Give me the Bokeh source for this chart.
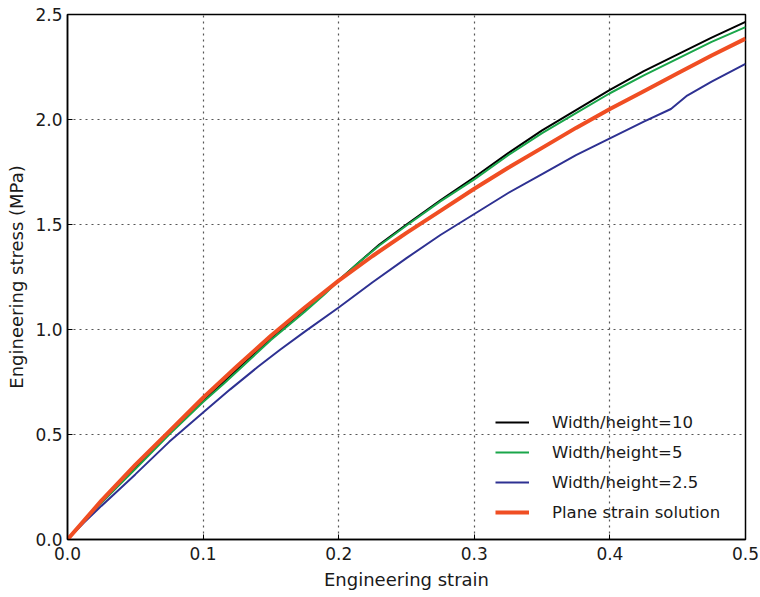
from bokeh.plotting import figure
from bokeh.models import Legend, LegendItem, FixedTicker, PrintfTickFormatter
from bokeh.embed import file_html
from bokeh.resources import INLINE

# ---- data ----
strain_w10 = [0.0, 0.012, 0.025, 0.05, 0.075, 0.1, 0.115, 0.125, 0.15, 0.175, 0.19, 0.2,
              0.215, 0.23, 0.25, 0.275, 0.3, 0.325, 0.35, 0.375, 0.4, 0.425, 0.45, 0.475, 0.5]
stress_w10 = [0.0, 0.085, 0.175, 0.34, 0.505, 0.66, 0.75, 0.81, 0.96, 1.095, 1.18, 1.235,
              1.32, 1.405, 1.50, 1.615, 1.725, 1.84, 1.948, 2.045, 2.141, 2.23, 2.31, 2.39, 2.465]

strain_w5 = [0.0, 0.012, 0.025, 0.05, 0.075, 0.1, 0.115, 0.125, 0.15, 0.175, 0.19, 0.2,
             0.215, 0.23, 0.25, 0.275, 0.3, 0.325, 0.35, 0.375, 0.4, 0.425, 0.45, 0.475, 0.5]
stress_w5 = [0.0, 0.085, 0.175, 0.335, 0.5, 0.655, 0.74, 0.8, 0.95, 1.085, 1.17, 1.233,
             1.32, 1.40, 1.495, 1.61, 1.715, 1.83, 1.935, 2.03, 2.125, 2.21, 2.29, 2.37, 2.44]

strain_w25 = [0.0, 0.012, 0.025, 0.05, 0.075, 0.1, 0.12, 0.14, 0.145, 0.157, 0.175, 0.2,
              0.225, 0.25, 0.275, 0.3, 0.325, 0.35, 0.375, 0.4, 0.425, 0.445, 0.457, 0.475, 0.5]
stress_w25 = [0.0, 0.08, 0.16, 0.31, 0.465, 0.605, 0.715, 0.82, 0.845, 0.905, 0.99, 1.105,
              1.225, 1.34, 1.45, 1.55, 1.65, 1.74, 1.83, 1.91, 1.99, 2.05, 2.114, 2.18, 2.265]

strain_ps = [0.0, 0.025, 0.05, 0.075, 0.1, 0.125, 0.15, 0.175, 0.2, 0.225, 0.25, 0.275,
             0.3, 0.325, 0.35, 0.375, 0.4, 0.425, 0.45, 0.475, 0.5]
stress_ps = [0.0, 0.185, 0.355, 0.515, 0.675, 0.825, 0.97, 1.105, 1.233, 1.35, 1.46, 1.565,
             1.67, 1.77, 1.865, 1.96, 2.05, 2.135, 2.22, 2.305, 2.385]

x_ticks = [0.0, 0.1, 0.2, 0.3, 0.4, 0.5]
y_ticks = [0.0, 0.5, 1.0, 1.5, 2.0, 2.5]

FONT = "DejaVu Sans"
TXT = "#1a1a1a"

p = figure(output_backend="svg", toolbar_location=None,
           frame_width=678, frame_height=525,
           min_border_left=67, min_border_right=15,
           min_border_top=14, min_border_bottom=58,
           x_range=(0, 0.5), y_range=(0, 2.5),
           x_axis_label="Engineering strain",
           y_axis_label="Engineering stress (MPa)")

p.outline_line_color = "black"
p.outline_line_width = 1.5
p.outline_line_alpha = 1.0

for ax, ticks in ((p.xaxis[0], x_ticks), (p.yaxis[0], y_ticks)):
    ax.ticker = FixedTicker(ticks=ticks)
    ax.formatter = PrintfTickFormatter(format="%.1f")
    ax.major_tick_in = 5
    ax.major_tick_out = 0
    ax.minor_tick_in = 0
    ax.minor_tick_out = 0
    ax.axis_line_color = "black"
    ax.axis_line_width = 1.5
    ax.major_label_text_font = FONT
    ax.major_label_text_font_size = "17px"
    ax.major_label_text_color = TXT
    ax.axis_label_text_font = FONT
    ax.axis_label_text_font_size = "18px"
    ax.axis_label_text_font_style = "normal"
    ax.axis_label_text_color = TXT
p.xaxis.major_label_standoff = 7
p.yaxis.major_label_standoff = 5
p.xaxis.axis_label_standoff = 6
p.yaxis.axis_label_standoff = 5

for g in (p.xgrid[0], p.ygrid[0]):
    g.grid_line_color = "#444444"
    g.grid_line_dash = "2 4"
    g.grid_line_width = 1.2
    g.grid_line_alpha = 0.9
p.xgrid[0].ticker = FixedTicker(ticks=x_ticks)
p.ygrid[0].ticker = FixedTicker(ticks=y_ticks)

r10 = p.line(strain_w10, stress_w10, line_color="black", line_width=2)
r5 = p.line(strain_w5, stress_w5, line_color="#1aa64a", line_width=2)
r25 = p.line(strain_w25, stress_w25, line_color="#2e3192", line_width=2)
rps = p.line(strain_ps, stress_ps, line_color="#f04e23", line_width=4)

legend = Legend(items=[
    LegendItem(label="Width/height=10", renderers=[r10]),
    LegendItem(label="Width/height=5", renderers=[r5]),
    LegendItem(label="Width/height=2.5", renderers=[r25]),
    LegendItem(label="Plane strain solution", renderers=[rps]),
], location=(428, 17))
legend.border_line_color = None
legend.background_fill_alpha = 0
legend.padding = 0
legend.margin = 0
legend.spacing = 10
legend.glyph_width = 34
legend.glyph_height = 20
legend.label_height = 20
legend.label_standoff = 23
legend.label_text_font = FONT
legend.label_text_font_size = "16.5px"
legend.label_text_color = TXT
p.add_layout(legend, "center")

open("out.html", "w").write(file_html(p, INLINE))
